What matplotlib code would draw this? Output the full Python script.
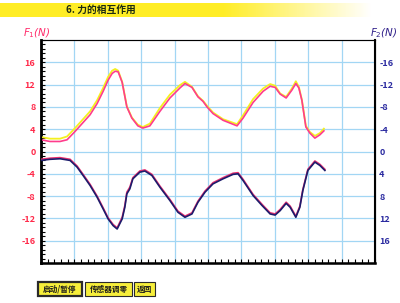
import numpy as np
import matplotlib
matplotlib.use("Agg")
import matplotlib.pyplot as plt
from matplotlib.ticker import MultipleLocator
from matplotlib.patches import Rectangle

plt.rcParams['font.family'] = ['Noto Sans CJK SC', 'DejaVu Sans']
plt.rcParams['axes.unicode_minus'] = False

# ---- data ----
title = "6. 力的相互作用"
buttons = ["启动/暂停", "传感器调零", "返回"]

t1 = [0, 0.27, 0.57, 0.78, 1.02, 1.26, 1.47, 1.68, 1.86, 2.01, 2.13, 2.22, 2.31, 2.43,
      2.57, 2.72, 2.90, 3.05, 3.26, 3.56, 3.86, 4.16, 4.31, 4.52, 4.70, 4.85, 4.97, 5.15,
      5.45, 5.87, 6.05, 6.35, 6.65, 6.86, 7.01, 7.16, 7.34, 7.51, 7.63, 7.72, 7.81, 7.93,
      8.05, 8.20, 8.35, 8.47]
f1_pink = [2.1, 1.8, 1.8, 2.1, 3.6, 5.2, 6.6, 8.6, 10.8, 12.8, 14.0, 14.4, 14.3, 12.4,
           8.0, 6.0, 4.6, 4.2, 4.6, 7.2, 9.6, 11.4, 12.2, 11.5, 9.8, 9.0, 8.0, 6.8,
           5.6, 4.6, 6.0, 8.8, 10.8, 11.7, 11.5, 10.3, 9.6, 11.0, 12.2, 11.4, 9.2, 4.4,
           3.3, 2.4, 3.0, 3.7]
f1_yellow = [2.6, 2.3, 2.3, 2.7, 4.2, 5.8, 7.2, 9.2, 11.4, 13.4, 14.5, 14.8, 14.5, 12.5,
             8.1, 6.1, 4.8, 4.4, 5.0, 7.8, 10.2, 11.9, 12.5, 11.6, 9.9, 9.1, 8.2, 7.0,
             5.8, 4.9, 6.5, 9.4, 11.3, 12.1, 11.8, 10.4, 9.8, 11.3, 12.6, 11.6, 9.3, 4.6,
             3.5, 2.8, 3.3, 4.1]

t2 = [0, 0.27, 0.57, 0.87, 1.08, 1.26, 1.47, 1.68, 1.86, 2.01, 2.16, 2.28, 2.43, 2.51,
      2.57, 2.66, 2.75, 2.96, 3.11, 3.32, 3.56, 3.86, 4.10, 4.31, 4.52, 4.70, 4.91, 5.15,
      5.45, 5.75, 5.90, 6.05, 6.35, 6.62, 6.86, 7.01, 7.16, 7.34, 7.46, 7.63, 7.75, 7.84,
      7.99, 8.20, 8.35, 8.50]
f2_navy = [1.6, 1.4, 1.3, 1.6, 2.8, 4.3, 6.1, 8.2, 10.3, 12.1, 13.3, 13.9, 12.1, 10.0,
           7.6, 6.7, 4.9, 3.7, 3.5, 4.3, 6.4, 8.8, 10.9, 11.8, 11.2, 9.1, 7.3, 5.8,
           4.9, 4.1, 4.0, 5.2, 7.9, 9.7, 11.2, 11.4, 10.6, 9.3, 10.0, 11.8, 10.0, 7.0,
           3.4, 1.9, 2.5, 3.4]
f2_pink = [1.4, 1.2, 1.1, 1.4, 2.6, 4.1, 5.9, 8.0, 10.1, 11.9, 13.1, 13.7, 11.8, 9.7,
           7.3, 6.4, 4.7, 3.5, 3.3, 4.1, 6.2, 8.6, 10.7, 11.6, 11.0, 8.9, 7.1, 5.6,
           4.7, 3.9, 3.8, 5.0, 7.7, 9.5, 11.0, 11.2, 10.4, 9.1, 9.8, 11.6, 9.8, 6.8,
           3.2, 1.7, 2.3, 3.2]

W, H = 400, 303
fig = plt.figure(figsize=(W / 100, H / 100), dpi=100)
fig.patch.set_facecolor("white")

def fx(px):
    return px / W

def fy(py):
    return 1 - py / H

# title bar with fading yellow
bar = fig.add_axes([0, fy(17), fx(372), 14 / H])
grad = np.ones((1, 300, 4))
grad[..., 0] = 1.0
grad[..., 1] = 0.93
grad[..., 2] = 0.15
alpha = np.ones(300)
alpha[180:] = np.linspace(1, 0, 120)
grad[..., 3] = alpha
bar.imshow(grad, aspect="auto", extent=[0, 1, 0, 1])
bar.axis("off")
fig.text(fx(101), fy(10), title, color="#1c2a12", fontsize=7, fontweight="bold",
         ha="center", va="center")

# main axes
ax = fig.add_axes([fx(41), fy(263), fx(375) - fx(41), fy(40) - fy(263)])
ax.set_xlim(0, 10)
ax.set_ylim(-20, 20)
ax.xaxis.set_major_locator(MultipleLocator(1))
ax.xaxis.set_minor_locator(MultipleLocator(0.2))
ax.yaxis.set_major_locator(MultipleLocator(4))
ax.yaxis.set_minor_locator(MultipleLocator(0.8))
ax.grid(True, which="major", color="#a2d6f4", lw=0.9)
ax.set_axisbelow(True)
ax.set_yticks([16, 12, 8, 4, 0, -4, -8, -12, -16])
ax.tick_params(axis="y", which="both", direction="in", length=3, width=0.8,
               color="black", labelsize=6.5, labelcolor="#ff2a4a", pad=4)
ax.tick_params(axis="x", which="both", direction="in", length=3, width=0.8,
               color="black", labelbottom=False)
for lab in ax.get_yticklabels():
    lab.set_fontweight("bold")
ax.spines["left"].set_linewidth(2)
ax.spines["bottom"].set_linewidth(1.8)
ax.spines["top"].set_color("#505070")
ax.spines["right"].set_linewidth(1.5)

ax.plot(t1, f1_yellow, color="#f4f020", lw=1.3, zorder=3)
ax.plot(t1, f1_pink, color="#ff3c8c", lw=1.2, zorder=4)

ax2 = ax.twinx()
ax2.set_ylim(20, -20)
ax2.set_yticks([-16, -12, -8, -4, 0, 4, 8, 12, 16])
ax2.tick_params(axis="y", length=0, labelsize=6.5, labelcolor="#2a2aa0", pad=3)
for lab in ax2.get_yticklabels():
    lab.set_fontweight("bold")
ax2.plot(t2, f2_pink, color="#e83070", lw=1.2, zorder=3)
ax2.plot(t2, f2_navy, color="#1c1c6c", lw=1.2, zorder=4)

fig.text(fx(37), fy(33), r"$F_1$(N)", color="#ff2a6a", fontsize=7.5,
         style="italic", ha="center", va="center", family="DejaVu Sans")
fig.text(fx(384), fy(33), r"$F_2$(N)", color="#30208a", fontsize=7.5,
         style="italic", ha="center", va="center", family="DejaVu Sans")

# buttons
spans = [(38, 82), (85, 132), (134, 155)]
for i, (name, (x0, x1)) in enumerate(zip(buttons, spans)):
    r = Rectangle((fx(x0), fy(296)), fx(x1) - fx(x0), 14 / H,
                  transform=fig.transFigure, facecolor="#f6ee3a",
                  edgecolor="#2a2a2a", lw=1.6 if i == 0 else 0.8)
    fig.patches.append(r)
    fig.text(fx((x0 + x1) / 2), fy(289), name, fontsize=5.5, fontweight="bold",
             color="#1c1c1c", ha="center", va="center")

fig.savefig("out.png", dpi=100)
